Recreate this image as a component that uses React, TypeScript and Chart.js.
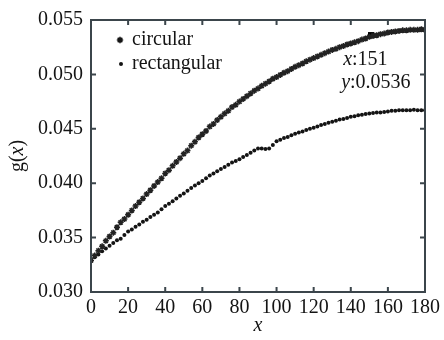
import React, { useEffect, useRef } from "react";
import { Chart, registerables } from "chart.js";

Chart.register(...registerables);

const xValues = [
  0, 2, 4, 6, 8, 10, 12, 14, 16, 18, 20, 22, 24, 26, 28, 30, 32, 34, 36, 38,
  40, 42, 44, 46, 48, 50, 52, 54, 56, 58, 60, 62, 64, 66, 68, 70, 72, 74, 76, 78,
  80, 82, 84, 86, 88, 90, 92, 94, 96, 98, 100, 102, 104, 106, 108, 110, 112, 114, 116, 118,
  120, 122, 124, 126, 128, 130, 132, 134, 136, 138, 140, 142, 144, 146, 148, 150, 152, 154, 156, 158,
  160, 162, 164, 166, 168, 170, 172, 174, 176, 178, 180,
];

const circular = [
  0.0329, 0.03335, 0.0338, 0.0342, 0.0347, 0.0351, 0.03545, 0.03595, 0.0364, 0.0367,
  0.0371, 0.0375, 0.0379, 0.03825, 0.0386, 0.039, 0.03935, 0.03975, 0.0401, 0.04045,
  0.0409, 0.0412, 0.0416, 0.04195, 0.0423, 0.0427, 0.043, 0.04345, 0.0438, 0.0442,
  0.0445, 0.0448, 0.0452, 0.04545, 0.0458, 0.0461, 0.0464, 0.04665, 0.047, 0.0472,
  0.0475, 0.04775, 0.048, 0.04825, 0.0485, 0.0487, 0.04895, 0.04915, 0.04935, 0.0496,
  0.04975, 0.04995, 0.05015, 0.0503, 0.0505, 0.0507, 0.05085, 0.051, 0.0512, 0.05135,
  0.0515, 0.05165, 0.0518, 0.05195, 0.0521, 0.05225, 0.05235, 0.0525, 0.0526, 0.05275,
  0.05285, 0.05295, 0.05305, 0.0532, 0.0533, 0.05345, 0.05355, 0.0536, 0.0537, 0.05375,
  0.05385, 0.0539, 0.05395, 0.054, 0.05405, 0.05405, 0.0541, 0.0541, 0.0541, 0.05415,
  0.0541,
];

const rectangular = [
  0.0329, 0.0332, 0.03345, 0.03375, 0.034, 0.03425, 0.0345, 0.03475, 0.0349, 0.03525,
  0.03555, 0.03575, 0.036, 0.0362, 0.03645, 0.03665, 0.0369, 0.0371, 0.0373, 0.0376,
  0.0379, 0.0381, 0.03835, 0.0386, 0.03885, 0.03905, 0.0393, 0.03955, 0.0398, 0.04,
  0.0402, 0.04045, 0.0407, 0.0409, 0.0411, 0.0413, 0.0415, 0.0417, 0.0419, 0.04205,
  0.0422, 0.0424, 0.0426, 0.0428, 0.043, 0.0432, 0.0432, 0.04315, 0.0432, 0.0435,
  0.04385, 0.044, 0.04415, 0.04425, 0.0444, 0.04455, 0.04465, 0.04475, 0.0449, 0.045,
  0.0451, 0.0452, 0.04535, 0.04545, 0.04555, 0.04565, 0.04575, 0.04585, 0.0459, 0.046,
  0.0461, 0.04615, 0.04625, 0.0463, 0.04635, 0.0464, 0.04645, 0.0465, 0.0465, 0.04655,
  0.0466, 0.04665, 0.04665, 0.0467, 0.0467, 0.0467, 0.0467, 0.04675, 0.0467, 0.0467,
  0.0467,
];

const seriesNames = ["circular", "rectangular"];
const markedPoint = { x: 151, y: 0.0536 };
const annotationLines = [
  [["x", true], [":151", false]],
  [["y", true], [":0.0536", false]],
];

const FONT = "'Liberation Serif', 'DejaVu Serif', serif";
const FRAME = "#3b454b";
const INK = "#141414";

function drawParts(ctx: CanvasRenderingContext2D, parts: any[], x: number, y: number, size: number) {
  let cx = x;
  for (const [t, it] of parts) {
    ctx.font = `${it ? "italic " : ""}${size}px ${FONT}`;
    ctx.fillText(t, cx, y);
    cx += ctx.measureText(t).width;
  }
}

const decorPlugin = {
  id: "decor",
  afterDraw(chart: any) {
    const ctx: CanvasRenderingContext2D = chart.ctx;
    const { left, right, top, bottom } = chart.chartArea;
    const xs = chart.scales.x;
    const ys = chart.scales.y;
    ctx.save();
    // frame
    ctx.strokeStyle = FRAME;
    ctx.lineWidth = 2;
    ctx.strokeRect(left, top, right - left, bottom - top);
    // inward ticks
    ctx.beginPath();
    xs.ticks.forEach((t: any) => {
      const px = xs.getPixelForValue(t.value);
      if (px <= left + 1 || px >= right - 1) return;
      ctx.moveTo(px, bottom);
      ctx.lineTo(px, bottom - 5);
      ctx.moveTo(px, top);
      ctx.lineTo(px, top + 5);
    });
    ys.ticks.forEach((t: any) => {
      const py = ys.getPixelForValue(t.value);
      if (py <= top + 1 || py >= bottom - 1) return;
      ctx.moveTo(left, py);
      ctx.lineTo(left + 5, py);
      ctx.moveTo(right, py);
      ctx.lineTo(right - 5, py);
    });
    ctx.stroke();

    // y title g(x)
    ctx.fillStyle = INK;
    ctx.textBaseline = "middle";
    ctx.save();
    ctx.translate(18, (top + bottom) / 2);
    ctx.rotate(-Math.PI / 2);
    const yParts: any[] = [["g(", false], ["x", true], [")", false]];
    let w = 0;
    for (const [t, it] of yParts) {
      ctx.font = `${it ? "italic " : ""}20px ${FONT}`;
      w += ctx.measureText(t).width;
    }
    drawParts(ctx, yParts, -w / 2, 0, 20);
    ctx.restore();

    // legend
    const lx = left + 29;
    const ly1 = top + 20;
    const ly2 = top + 44;
    ctx.strokeStyle = INK;
    ctx.lineWidth = 1.6;
    ctx.beginPath();
    const r = 3.2;
    ctx.moveTo(lx - r, ly1); ctx.lineTo(lx + r, ly1);
    ctx.moveTo(lx, ly1 - r); ctx.lineTo(lx, ly1 + r);
    const d = r * 0.72;
    ctx.moveTo(lx - d, ly1 - d); ctx.lineTo(lx + d, ly1 + d);
    ctx.moveTo(lx - d, ly1 + d); ctx.lineTo(lx + d, ly1 - d);
    ctx.stroke();
    ctx.beginPath();
    ctx.arc(lx + 1, ly2, 2, 0, Math.PI * 2);
    ctx.fill();
    ctx.font = `20px ${FONT}`;
    ctx.textAlign = "left";
    ctx.fillText(seriesNames[0], lx + 12, ly1);
    ctx.fillText(seriesNames[1], lx + 12, ly2);

    // annotation
    const mx = xs.getPixelForValue(markedPoint.x);
    const my = ys.getPixelForValue(markedPoint.y);
    drawParts(ctx, annotationLines[0], mx - 28, my + 25, 20);
    drawParts(ctx, annotationLines[1], mx - 30, my + 48, 20);
    ctx.restore();
  },
};

export default function App() {
  const ref = useRef<HTMLCanvasElement>(null);
  useEffect(() => {
    document.body.style.margin = "0";
    const canvas = ref.current!;
    const chart = new Chart(canvas, {
      type: "scatter",
      data: {
        datasets: [
          {
            label: seriesNames[0],
            data: xValues.map((x, i) => ({ x, y: circular[i] })),
            pointStyle: "star",
            pointRadius: 3,
            pointBorderWidth: 1.5,
            pointBorderColor: "#222",
            pointBackgroundColor: "#222",
          },
          {
            label: seriesNames[1],
            data: xValues.map((x, i) => ({ x, y: rectangular[i] })),
            pointStyle: "circle",
            pointRadius: 2,
            pointBorderWidth: 0,
            pointBackgroundColor: INK,
          },
          {
            label: "marker",
            data: [markedPoint],
            pointStyle: "rect",
            pointRadius: 4.5,
            pointBorderWidth: 0,
            pointBackgroundColor: "#000",
          },
        ],
      },
      options: {
        animation: false,
        responsive: false,
        maintainAspectRatio: false,
        layout: { padding: { left: 0, right: 16, top: 16, bottom: 0 } },
        plugins: { legend: { display: false }, tooltip: { enabled: false } },
        scales: {
          x: {
            type: "linear",
            min: 0,
            max: 180,
            grid: { display: false, drawTicks: false },
            border: { display: false },
            ticks: {
              stepSize: 20,
              padding: 4,
              color: INK,
              font: { family: FONT, size: 20 },
              maxRotation: 0,
            },
            title: {
              display: true,
              text: "x",
              color: INK,
              font: { family: FONT, size: 20, style: "italic" },
              padding: { top: 0, bottom: 2 },
            },
            afterFit: (s: any) => {
              s.height = 48;
            },
          },
          y: {
            type: "linear",
            min: 0.03,
            max: 0.055,
            grid: { display: false, drawTicks: false },
            border: { display: false },
            ticks: {
              stepSize: 0.005,
              padding: 8,
              color: INK,
              font: { family: FONT, size: 20 },
              callback: (v: any) => Number(v).toFixed(3),
            },
            afterFit: (s: any) => {
              s.width = 91;
            },
          },
        },
      },
      plugins: [decorPlugin],
    });
    return () => chart.destroy();
  }, []);
  return (
    <div style={{ position: "absolute", left: 0, top: 0, width: 444, height: 340, background: "#fff" }}>
      <canvas ref={ref} width={444} height={340} style={{ display: "block" }} />
    </div>
  );
}
